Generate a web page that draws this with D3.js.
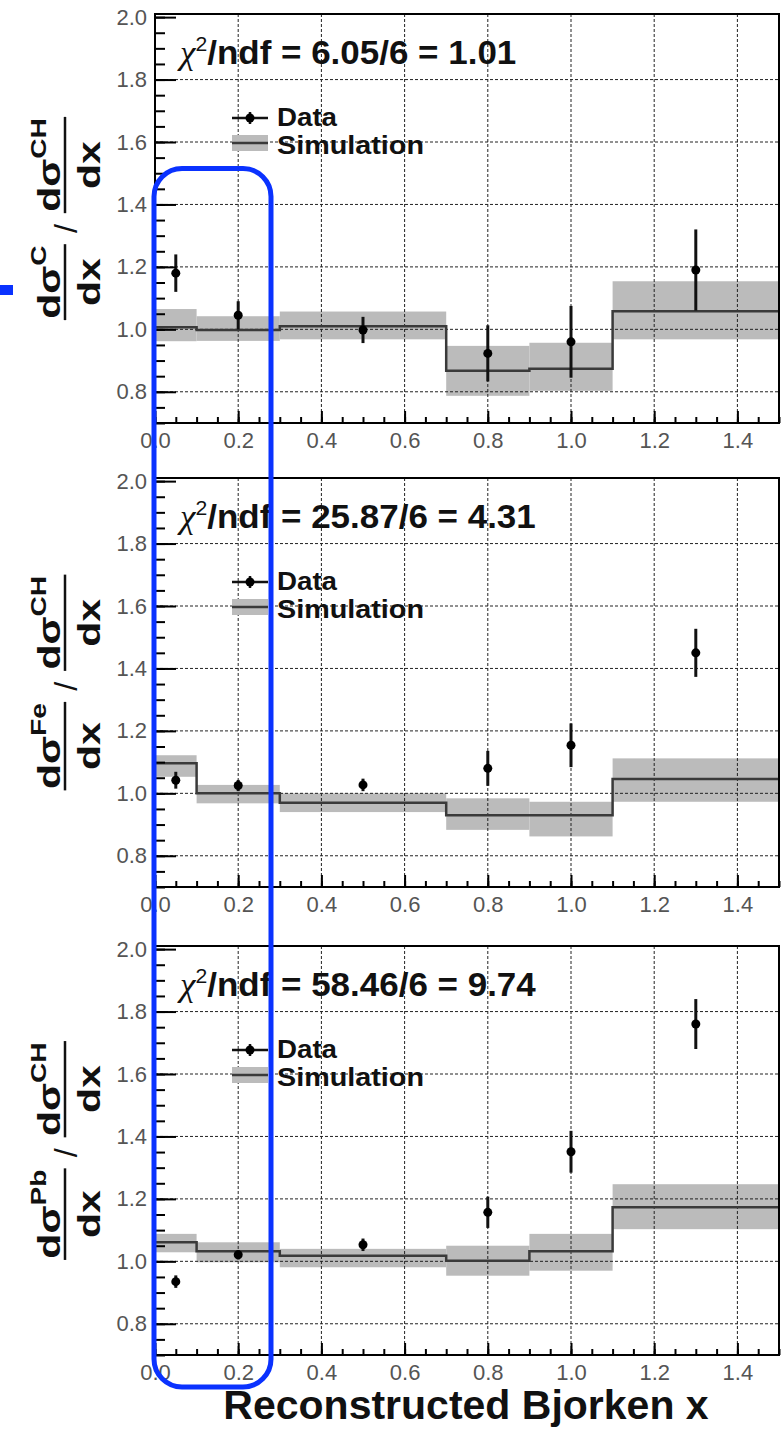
<!DOCTYPE html>
<html><head><meta charset="utf-8">
<script src="https://cdn.jsdelivr.net/npm/d3@7"></script>
<style>body{margin:0;background:#fff} svg{display:block}</style>
</head><body>
<script>
// ---------- data ----------
const binEdges = [0, 0.1, 0.3, 0.7, 0.9, 1.1, 1.5];
const xCenters = [0.05, 0.2, 0.5, 0.8, 1.0, 1.3];
const targets = ["C", "Fe", "Pb"];
const chi2Labels = ["6.05/6 = 1.01", "25.87/6 = 4.31", "58.46/6 = 9.74"];

const dataC  = [1.18, 1.045, 0.998, 0.923, 0.96, 1.19];
const errC   = [0.06, 0.045, 0.042, 0.09, 0.115, 0.13];
const simC   = [1.007, 0.998, 1.01, 0.867, 0.874, 1.058];
const simCLo = [0.962, 0.963, 0.968, 0.787, 0.803, 0.968];
const simCHi = [1.065, 1.042, 1.057, 0.947, 0.957, 1.154];

const dataFe  = [1.042, 1.025, 1.027, 1.08, 1.154, 1.45];
const errFe   = [0.027, 0.018, 0.02, 0.056, 0.07, 0.077];
const simFe   = [1.096, 1.0, 0.97, 0.93, 0.93, 1.046];
const simFeLo = [1.053, 0.968, 0.94, 0.883, 0.862, 0.973];
const simFeHi = [1.122, 1.027, 1.0, 0.984, 0.973, 1.112];

const dataPb  = [0.935, 1.021, 1.053, 1.157, 1.351, 1.76];
const errPb   = [0.02, 0.015, 0.02, 0.05, 0.067, 0.08];
const simPb   = [1.061, 1.032, 1.018, 1.002, 1.032, 1.173];
const simPbLo = [1.029, 0.997, 0.981, 0.954, 0.97, 1.103];
const simPbHi = [1.088, 1.061, 1.04, 1.05, 1.088, 1.247];

const xTicks = [0, 0.2, 0.4, 0.6, 0.8, 1.0, 1.2, 1.4];
const yTicks = [0.8, 1.0, 1.2, 1.4, 1.6, 1.8, 2.0];
const xTitle = "Reconstructed Bjorken x";

const panels = [
  {tgt: targets[0], chi: chi2Labels[0], data: dataC, err: errC, sim: simC, lo: simCLo, hi: simCHi},
  {tgt: targets[1], chi: chi2Labels[1], data: dataFe, err: errFe, sim: simFe, lo: simFeLo, hi: simFeHi},
  {tgt: targets[2], chi: chi2Labels[2], data: dataPb, err: errPb, sim: simPb, lo: simPbLo, hi: simPbHi}
];

// ---------- layout ----------
const W = 783, H = 1429;
const left = 155, right = 779;
const tops = [14, 478, 946];
const ph = 409;
const SANS = "'Liberation Sans', Arial, Helvetica, sans-serif";

const svg = d3.select("body").append("svg").attr("width", W).attr("height", H);
const x = d3.scaleLinear().domain([0, 1.5]).range([left, right]);

panels.forEach((p, pi) => {
  const top = tops[pi], bot = top + ph;
  const y = d3.scaleLinear().domain([0.7, 2.01]).range([bot, top]);
  const g = svg.append("g");

  // simulation bands
  g.append("g").selectAll("rect").data(p.sim).join("rect")
    .attr("x", (d, i) => x(binEdges[i]))
    .attr("width", (d, i) => x(binEdges[i + 1]) - x(binEdges[i]))
    .attr("y", (d, i) => y(p.hi[i]))
    .attr("height", (d, i) => y(p.lo[i]) - y(p.hi[i]))
    .attr("fill", "#bbbbbb");

  // grid
  const grid = g.append("g").attr("stroke", "#222").attr("stroke-width", 1)
    .attr("stroke-dasharray", "3,2");
  grid.selectAll("line.v").data(xTicks.filter(d => d > 0)).join("line").attr("class", "v")
    .attr("x1", d => x(d)).attr("x2", d => x(d)).attr("y1", top).attr("y2", bot);
  grid.selectAll("line.h").data(yTicks.filter(d => d < 2.0)).join("line").attr("class", "h")
    .attr("x1", left).attr("x2", right).attr("y1", d => y(d)).attr("y2", d => y(d));

  // simulation line (step)
  const pts = p.sim.map((v, i) => [binEdges[i], v]).concat([[binEdges[binEdges.length - 1], p.sim[p.sim.length - 1]]]);
  g.append("path").datum(pts)
    .attr("d", d3.line().x(d => x(d[0])).y(d => y(d[1])).curve(d3.curveStepAfter))
    .attr("fill", "none").attr("stroke", "#3a3a3a").attr("stroke-width", 2.5);

  // data
  const dg = g.append("g");
  dg.selectAll("line").data(p.data).join("line")
    .attr("x1", (d, i) => x(xCenters[i])).attr("x2", (d, i) => x(xCenters[i]))
    .attr("y1", (d, i) => y(d - p.err[i])).attr("y2", (d, i) => y(d + p.err[i]))
    .attr("stroke", "#111").attr("stroke-width", 3);
  dg.selectAll("circle").data(p.data).join("circle")
    .attr("cx", (d, i) => x(xCenters[i])).attr("cy", d => y(d)).attr("r", 4.5).attr("fill", "#000");

  // axes
  const yAx = g.append("g").attr("transform", `translate(${left},0)`)
    .call(d3.axisLeft(y).tickValues(yTicks).tickSize(-21).tickPadding(8).tickFormat(d3.format(".1f")));
  const yMinor = g.append("g").attr("transform", `translate(${left},0)`)
    .call(d3.axisLeft(y).tickValues(d3.range(14, 41).map(k => k * 0.05)).tickSize(-10).tickFormat(""));
  const xAx = g.append("g").attr("transform", `translate(0,${bot})`)
    .call(d3.axisBottom(x).tickValues(xTicks).tickSize(-12).tickPadding(9).tickFormat(d3.format(".1f")));
  const xMinor = g.append("g").attr("transform", `translate(0,${bot})`)
    .call(d3.axisBottom(x).tickValues(d3.range(0, 31).map(k => k * 0.05)).tickSize(-6).tickFormat(""));
  [yAx, yMinor, xAx, xMinor].forEach(a => {
    a.select(".domain").remove();
    a.selectAll(".tick line").attr("stroke", "#000").attr("stroke-width", 2);
    a.selectAll(".tick text").attr("font-family", SANS).attr("font-size", 22).attr("fill", "#555");
  });

  // frame
  g.append("rect").attr("x", left).attr("y", top).attr("width", right - left).attr("height", ph)
    .attr("fill", "none").attr("stroke", "#000").attr("stroke-width", 2);

  // chi2 text
  const ct = g.append("text").attr("x", 0).attr("y", 0)
    .attr("transform", `translate(180,${top + 50}) scale(1.06,1)`)
    .attr("font-family", SANS).attr("font-size", 33).attr("font-weight", "bold").attr("fill", "#111");
  ct.append("tspan").text("χ").attr("font-family", "'Liberation Serif', 'DejaVu Serif', serif")
    .attr("font-style", "italic").attr("font-weight", "normal");
  ct.append("tspan").text("2").attr("font-size", 20).attr("font-weight", "normal").attr("dy", -13);
  ct.append("tspan").text("/ndf = " + p.chi).attr("dy", 13);

  // legend
  const lg = g.append("g");
  const ly1 = top + 104, ly2 = top + 129;
  lg.append("line").attr("x1", 232).attr("x2", 268).attr("y1", ly1).attr("y2", ly1)
    .attr("stroke", "#111").attr("stroke-width", 2.5);
  lg.append("line").attr("x1", 250).attr("x2", 250).attr("y1", ly1 - 6).attr("y2", ly1 + 6)
    .attr("stroke", "#111").attr("stroke-width", 2.5);
  lg.append("circle").attr("cx", 250).attr("cy", ly1).attr("r", 4.5).attr("fill", "#000");
  lg.append("rect").attr("x", 232).attr("y", ly2 - 8).attr("width", 36).attr("height", 16).attr("fill", "#bbbbbb");
  lg.append("line").attr("x1", 232).attr("x2", 268).attr("y1", ly2).attr("y2", ly2)
    .attr("stroke", "#3a3a3a").attr("stroke-width", 2.5);
  lg.append("text").attr("x", 277).attr("y", top + 112).text("Data")
    .attr("textLength", 60).attr("lengthAdjust", "spacingAndGlyphs")
    .attr("font-family", SANS).attr("font-size", 25).attr("font-weight", "bold").attr("fill", "#111");
  lg.append("text").attr("x", 277).attr("y", top + 140).text("Simulation")
    .attr("textLength", 147).attr("lengthAdjust", "spacingAndGlyphs")
    .attr("font-family", SANS).attr("font-size", 25).attr("font-weight", "bold").attr("fill", "#111");

  // y label (rotated fractions)
  const yl = g.append("g").attr("transform", `translate(65,${top + ph / 2}) rotate(-90)`);
  const inner = yl.append("g");
  function fraction(sup) {
    const fg = inner.append("g");
    const num = fg.append("text").attr("text-anchor", "middle").attr("y", -5)
      .attr("font-family", SANS).attr("font-size", 32).attr("font-weight", "bold").attr("fill", "#111");
    num.append("tspan").text("dσ");
    num.append("tspan").text(sup).attr("font-size", 22).attr("dy", -14);
    const den = fg.append("text").attr("text-anchor", "middle").attr("y", 35).text("dx")
      .attr("font-family", SANS).attr("font-size", 32).attr("font-weight", "bold").attr("fill", "#111");
    const w = Math.max(num.node().getComputedTextLength(), den.node().getComputedTextLength()) + 2;
    fg.append("line").attr("x1", -w / 2).attr("x2", w / 2).attr("y1", 0).attr("y2", 0)
      .attr("stroke", "#111").attr("stroke-width", 2.5);
    return {g: fg, w: w};
  }
  const sx = 1.28;
  const f1 = fraction(p.tgt), f2 = fraction("CH");
  const gap = 31;
  const total = (f1.w + f2.w) * sx + gap;
  const c1 = -total / 2 + f1.w * sx / 2;
  const cs = -total / 2 + f1.w * sx + gap / 2;
  const c2 = total / 2 - f2.w * sx / 2;
  f1.g.attr("transform", `translate(${c1},0) scale(${sx},1)`);
  f2.g.attr("transform", `translate(${c2},0) scale(${sx},1)`);
  inner.append("text").attr("x", cs).attr("y", 12).attr("text-anchor", "middle").text("/")
    .attr("font-family", SANS).attr("font-size", 32).attr("fill", "#111");
});

// x title
svg.append("text").attr("x", 466).attr("y", 1419).attr("text-anchor", "middle").text(xTitle)
  .attr("font-family", SANS).attr("font-size", 41).attr("font-weight", "bold").attr("fill", "#111");

// blue annotation
svg.append("rect").attr("x", 154).attr("y", 168.5).attr("width", 117).attr("height", 1218.5)
  .attr("rx", 28).attr("ry", 28).attr("fill", "none").attr("stroke", "#0a32ff").attr("stroke-width", 5);
svg.append("rect").attr("x", 0).attr("y", 285).attr("width", 13).attr("height", 10).attr("fill", "#0a32ff");
</script>
</body></html>
